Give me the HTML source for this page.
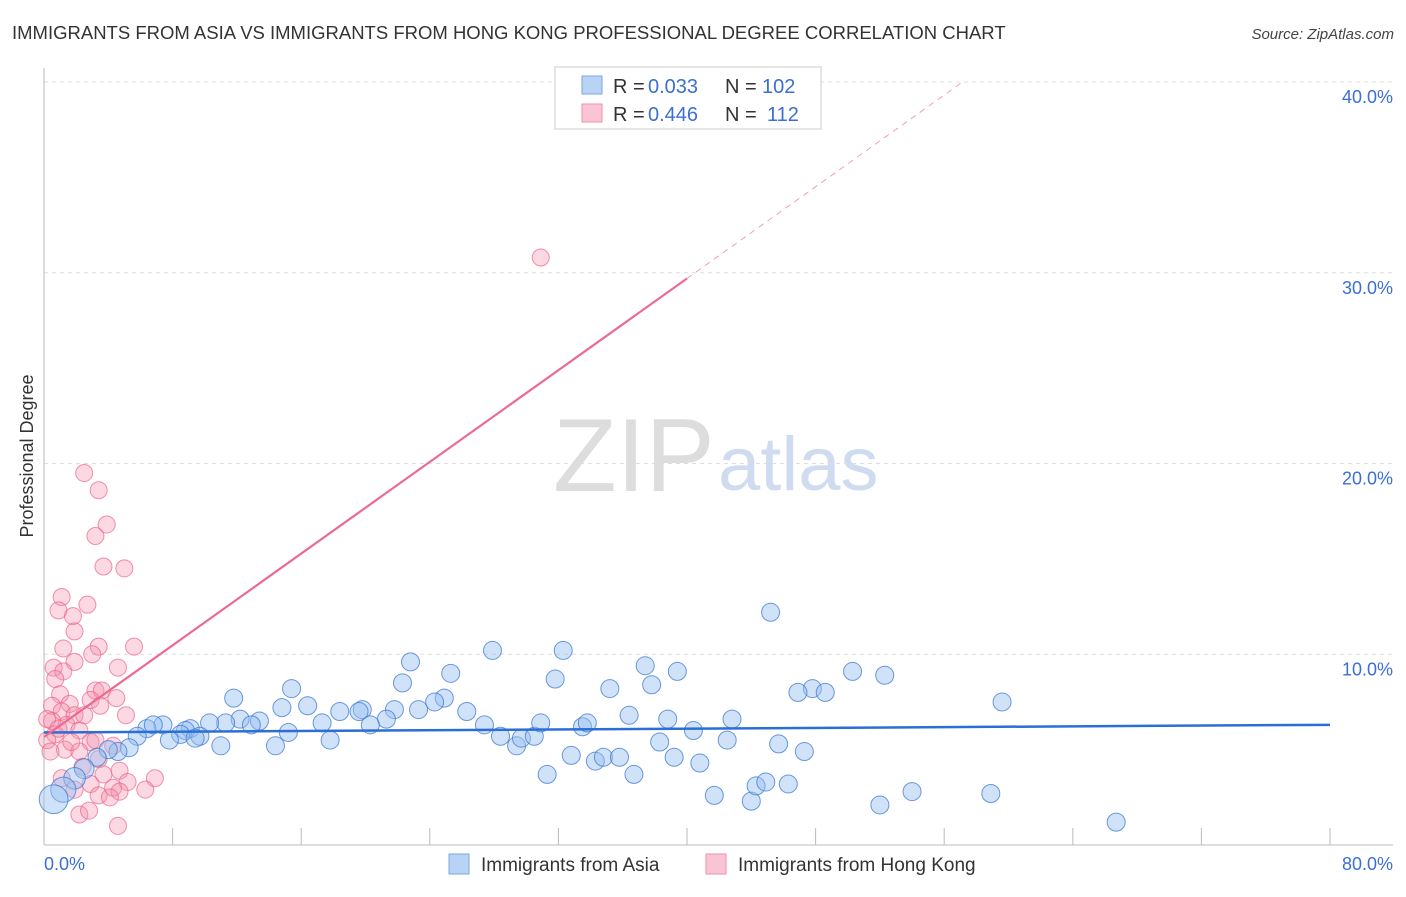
<!DOCTYPE html>
<html><head><meta charset="utf-8"><style>
body{margin:0;background:#fff;font-family:"Liberation Sans",sans-serif;}
svg text{font-family:"Liberation Sans",sans-serif;}
</style></head><body>
<svg id="chart" width="1406" height="892" viewBox="0 0 1406 892" xmlns="http://www.w3.org/2000/svg">
<text x="12" y="39" font-size="18.5" fill="#333">IMMIGRANTS FROM ASIA VS IMMIGRANTS FROM HONG KONG PROFESSIONAL DEGREE CORRELATION CHART</text>
<text x="1394" y="39" font-size="15" fill="#444" text-anchor="end" font-style="italic">Source: ZipAtlas.com</text>
<g>
<text x="553" y="491" font-size="104" fill="#ddd" font-family="Liberation Serif">ZIP</text>
<text x="718" y="490" font-size="76" fill="#cfdcf0">atlas</text>
</g>
<g id="grid"></g>
<g id="axes"></g>
<g id="pts"></g>
<g id="lines"></g>
<text transform="translate(33,456) rotate(-90)" font-size="18" fill="#333" text-anchor="middle">Professional Degree</text>
<text x="44" y="870" font-size="18" fill="#3b6fd4">0.0%</text>
<text x="1393" y="870" font-size="18" fill="#3b6fd4" text-anchor="end">80.0%</text>
<g>
<rect x="555" y="67" width="266" height="62" fill="#fff" stroke="#ccc"/>
<rect x="582" y="76" width="20" height="18" fill="#b9d3f5" stroke="#7aa6e6"/>
<rect x="582" y="104" width="20" height="18" fill="#f9c5d4" stroke="#f08fac"/>
<text x="613" y="93" font-size="20" fill="#333">R = <tspan x="648" fill="#3b6fd4">0.033</tspan><tspan x="725">N =</tspan><tspan x="762" fill="#3b6fd4">102</tspan></text>
<text x="613" y="121" font-size="20" fill="#333">R = <tspan x="648" fill="#3b6fd4">0.446</tspan><tspan x="725">N =</tspan><tspan x="767" fill="#3b6fd4">112</tspan></text>
</g>
<g>
<rect x="449" y="854" width="20" height="20" fill="#b9d3f5" stroke="#7aa6e6"/>
<text x="481" y="871" font-size="19" fill="#333">Immigrants from Asia</text>
<rect x="706" y="854" width="20" height="20" fill="#f9c5d4" stroke="#f08fac"/>
<text x="738" y="871" font-size="19" fill="#333">Immigrants from Hong Kong</text>
</g>
</svg>
<script>
const yTicks=[10,20,30,40];
const xTicks=[0,8,16,24,32,40,48,56,64,72,80];
const asiaX=[11.8,15.4,22.8,27.9,32.3,45.2,37.4,39.4,50.3,52.3,59.6,47.8,46.9,48.6,35.2,37.8,31.8,25.3,22.3,24.9,24.3,23.3,21.8,19.8,19.6,18.4,16.4,14.8,26.3,21.3,17.3,15.2,17.8,14.4,12.2,13.4,12.9,11.3,10.3,9.1,8.8,8.5,7.4,6.4,6.8,7.8,9.7,9.4,11.0,5.8,5.3,4.6,4.0,3.3,2.5,1.9,1.2,0.6,20.3,27.4,28.4,29.4,29.7,30.5,30.9,33.5,33.8,36.4,38.8,40.4,42.8,42.5,38.3,45.7,47.3,32.8,34.3,34.8,35.8,31.3,36.7,39.2,40.8,41.7,44.0,44.3,44.9,46.3,52.0,54.0,58.9,66.7];
const asiaY=[7.7,8.2,9.6,10.2,10.2,12.2,9.4,9.1,9.1,8.9,7.5,8.2,8.0,8.0,8.2,8.4,8.7,9.0,8.5,7.7,7.5,7.1,7.1,7.1,7.0,7.0,7.3,7.2,7.0,6.6,6.4,5.9,5.5,5.2,6.6,6.5,6.3,6.4,6.4,6.1,6.0,5.8,6.3,6.1,6.3,5.5,5.7,5.6,5.2,5.7,5.1,4.9,5.0,4.6,4.0,3.5,2.9,2.4,6.3,6.3,5.7,5.2,5.6,5.7,6.4,6.2,6.4,6.8,6.6,6.0,6.6,5.5,5.4,5.3,4.9,4.7,4.4,4.6,4.6,3.7,3.7,4.6,4.3,2.6,2.3,3.1,3.3,3.2,2.1,2.8,2.7,1.2];
const asiaSize=[1,1,1,1,1,1,1,1,1,1,1,1,1,1,1,1,1,1,1,1,1,1,1,1,1,1,1,1,1,1,1,1,1,1,1,1,1,1,1,1,1,1,1,1,1,1,1,1,1,1,1,1,1,1,1.1,1.2,1.4,1.6,1,1,1,1,1,1,1,1,1,1,1,1,1,1,1,1,1,1,1,1,1,1,1,1,1,1,1,1,1,1,1,1,1,1];
const hkX=[2.5,3.4,3.9,3.2,3.7,5.0,1.1,2.7,0.9,1.8,1.9,3.4,5.6,1.2,3.0,1.9,4.6,0.6,1.2,0.7,3.2,3.6,4.5,1.0,1.6,0.5,2.9,3.5,1.1,1.9,2.5,0.5,1.4,5.1,2.2,0.7,0.2,2.9,3.2,4.3,1.3,2.2,0.4,3.4,2.4,4.7,3.7,1.1,2.9,5.2,6.9,1.9,4.3,4.7,3.4,4.1,6.3,2.2,2.8,4.6,30.9,0.2,0.9,1.7];
const hkY=[19.5,18.6,16.8,16.2,14.6,14.5,13.0,12.6,12.3,12.0,11.2,10.4,10.4,10.3,10.0,9.6,9.3,9.3,9.1,8.7,8.1,8.1,7.7,7.9,7.4,7.3,7.6,7.3,7.0,6.8,6.8,6.5,6.3,6.8,6.0,5.8,5.5,5.4,5.5,5.2,5.0,4.9,4.9,4.5,4.1,3.9,3.7,3.5,3.2,3.3,3.5,2.9,3.0,2.8,2.6,2.5,2.9,1.6,1.8,1.0,30.8,6.6,6.1,5.4];
const asiaTrend=[5.9,6.3];
const hkTrendStart=5.66, hkTrendSlope=0.601;
const X0=44,X1=1330,Y0=845,YT=82;
const xs=v=>X0+v*(X1-X0)/80;
const ys=v=>Y0-v*(Y0-YT)/40;
const NS='http://www.w3.org/2000/svg';
function mk(tag,attrs,parent){const e=document.createElementNS(NS,tag);for(const k in attrs)e.setAttribute(k,attrs[k]);parent.appendChild(e);return e;}
const grid=document.getElementById('grid'),axes=document.getElementById('axes'),pts=document.getElementById('pts'),lines=document.getElementById('lines');
yTicks.forEach(t=>{
 const l=mk('line',{x1:X0,x2:1393,y1:ys(t),y2:ys(t),stroke:'#ddd','stroke-dasharray':'4,4'},grid);
 
 
 const tx=mk('text',{x:1393,y:ys(t)+21,'font-size':18,fill:'#3b6fd4','text-anchor':'end'},grid);
 tx.textContent=t.toFixed(1)+'%';
 
 
});
const ya=mk('line',{x1:X0,x2:X0,y1:68,y2:Y0,stroke:'#bbb'},axes);


const xa=mk('line',{x1:X0,x2:1393,y1:Y0,y2:Y0,stroke:'#bbb'},axes);


xTicks.forEach(t=>{
 const l=mk('line',{x1:xs(t),x2:xs(t),y1:Y0-17,y2:Y0,stroke:'#bbb'},axes);
 
 
});
hkX.forEach((v,i)=>{
 const c=mk('circle',{cx:xs(v),cy:ys(hkY[i]),r:8.5,fill:'rgba(244,143,172,0.35)',stroke:'rgba(236,100,140,0.7)','stroke-width':1},pts);
 
 
});
asiaX.forEach((v,i)=>{
 const c=mk('circle',{cx:xs(v),cy:ys(asiaY[i]),r:9*asiaSize[i],fill:'rgba(150,190,240,0.45)',stroke:'rgba(60,120,210,0.75)','stroke-width':1},pts);
 
 
});
const bl=mk('line',{x1:xs(0),x2:xs(80),y1:ys(asiaTrend[0]),y2:ys(asiaTrend[1]),stroke:'#2b6fd6','stroke-width':2.5},lines);


const hk=v=>hkTrendStart+hkTrendSlope*v;
const pl=mk('line',{x1:xs(0),x2:xs(40),y1:ys(hk(0)),y2:ys(hk(40)),stroke:'#ec6a92','stroke-width':2.2},lines);


const xe=(40-hkTrendStart)/hkTrendSlope;
const pd=mk('line',{x1:xs(40),x2:xs(xe),y1:ys(hk(40)),y2:ys(40),stroke:'#f0a0b8','stroke-width':1,'stroke-dasharray':'6,5'},lines);


</script>
</body></html>
